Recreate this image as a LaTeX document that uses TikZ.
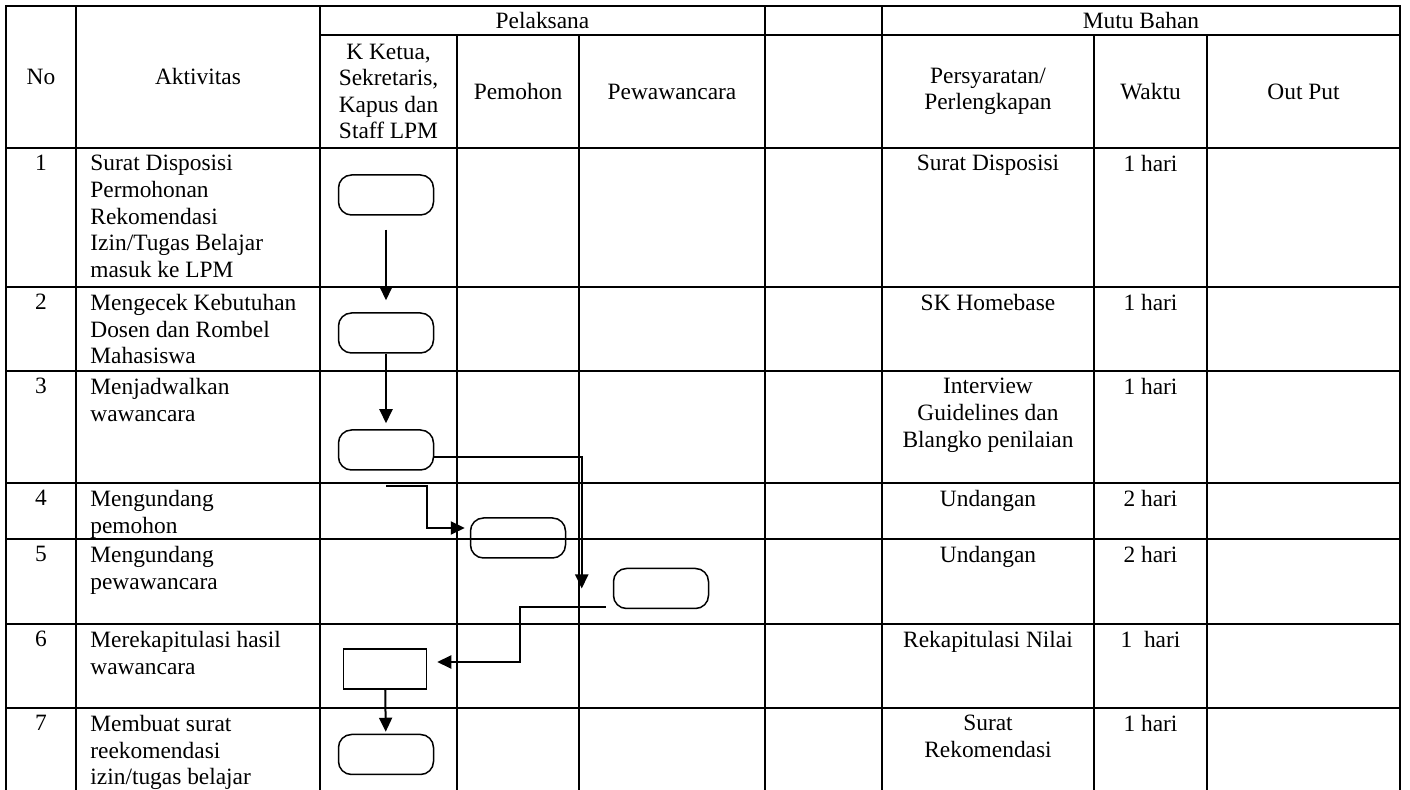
\documentclass[tikz,border=0pt]{standalone}
\usepackage{fontspec}
\setmainfont{Liberation Serif}
\usetikzlibrary{arrows.meta}

\tikzset{
    term/.style={draw,line width=.75pt,rounded corners=6.5pt,minimum width=47.5pt,minimum height=20pt,inner sep=0pt},
    proc/.style={draw,line width=.75pt,minimum width=41.5pt,minimum height=20pt,inner sep=0pt},
    flow/.style={->,line width=1pt},
    cell/.style={inner sep=0pt,align=center,anchor=north},
    rule/.style={line width=1pt}
}

\begin{document}
\begin{tikzpicture}[x=.5pt,y=-.5pt,>={Triangle[length=7pt,width=6.5pt]},font=\fontsize{11.7}{13.3}\selectfont]
    \useasboundingbox (0,0) rectangle (1410,790);
    % table rules
    \draw [rule] (6,790) -- (6,6) -- (1400,6) -- (1400,790);
    \draw [rule] (320,35) -- (1400,35);
    \foreach \y in {148,287,371,483,539,624,708}
        \draw [rule] (6,\y) -- (1400,\y);
    \foreach \x in {76,320,765,882}
        \draw [rule] (\x,6) -- (\x,790);
    \foreach \x in {457,579,1094,1207}
        \draw [rule] (\x,35) -- (\x,790);
    % header
    \node (hno) at (41,77) {No};
    \node (hakt) at (198,77) {Aktivitas};
    \node (hpel) at (542.5,20.5) {Pelaksana};
    \node (hmutu) at (1141,20.5) {Mutu Bahan};
    \node [align=center] (hk) at (388.5,91.5) {K Ketua,\\Sekretaris,\\Kapus dan\\Staff LPM};
    \node (hpem) at (518,91.5) {Pemohon};
    \node (hwaw) at (672,91.5) {Pewawancara};
    \node [align=center] (hsyar) at (988,91.5) {Persyaratan/\\Perlengkapan};
    \node (hwkt) at (1150.5,91.5) {Waktu};
    \node (hout) at (1303.5,91.5) {Out Put};
    % rows
    \foreach \n/\top/\act/\req/\dur in {
        1/148/{Surat Disposisi\\Permohonan\\Rekomendasi\\Izin/Tugas Belajar\\masuk ke LPM}/{Surat Disposisi}/{1 hari},
        2/287/{Mengecek Kebutuhan\\Dosen dan Rombel\\Mahasiswa}/{SK Homebase}/{1 hari},
        3/371/{Menjadwalkan\\wawancara}/{Interview\\Guidelines dan\\Blangko penilaian}/{1 hari},
        4/483/{Mengundang\\pemohon}/{Undangan}/{2 hari},
        5/539/{Mengundang\\pewawancara}/{Undangan}/{2 hari},
        6/624/{Merekapitulasi hasil\\wawancara}/{Rekapitulasi Nilai}/{1~ hari},
        7/708/{Membuat surat\\reekomendasi\\izin/tugas belajar}/{Surat\\Rekomendasi}/{1 hari}} {
        \node [cell] (no\n) at (41,\top+7) {\n};
        \node [cell,anchor=north west,align=left] (akt\n) at (90,\top+7) {\act};
        \node [cell] (req\n) at (988,\top+7) {\req};
        \node [cell] (dur\n) at (1150.5,\top+7) {\dur};
    }
    % flow
    \node [term] (k1) at (386,195) {};
    \node [term] (k2) at (386,333) {};
    \node [term] (k3) at (386,450) {};
    \node [term] (p4) at (518,538) {};
    \node [term] (w5) at (661,588.5) {};
    \node [proc] (k6) at (385,669) {};
    \node [term] (k7) at (386,754.5) {};
    \draw [flow,shorten <=7pt,shorten >=6pt] (k1) -- (k2);
    \draw [flow,shorten >=3pt] (k2) -- (k3);
    \draw [flow] ([yshift=-3.5pt]k3.east) -| ([xshift=-15.5pt]w5.west);
    \draw [flow] ([yshift=-7.5pt]k3.south) -- ++(41,0) |- ([xshift=-2.5pt,yshift=5pt]p4.west);
    \draw [flow] ([xshift=-3.5pt,yshift=-9.5pt]w5.west) -- ++(-86,0) |- ([xshift=5pt,yshift=3.5pt]k6.east);
    \draw [flow,shorten >=1pt] (k6) -- (k7);
\end{tikzpicture}
\end{document}
